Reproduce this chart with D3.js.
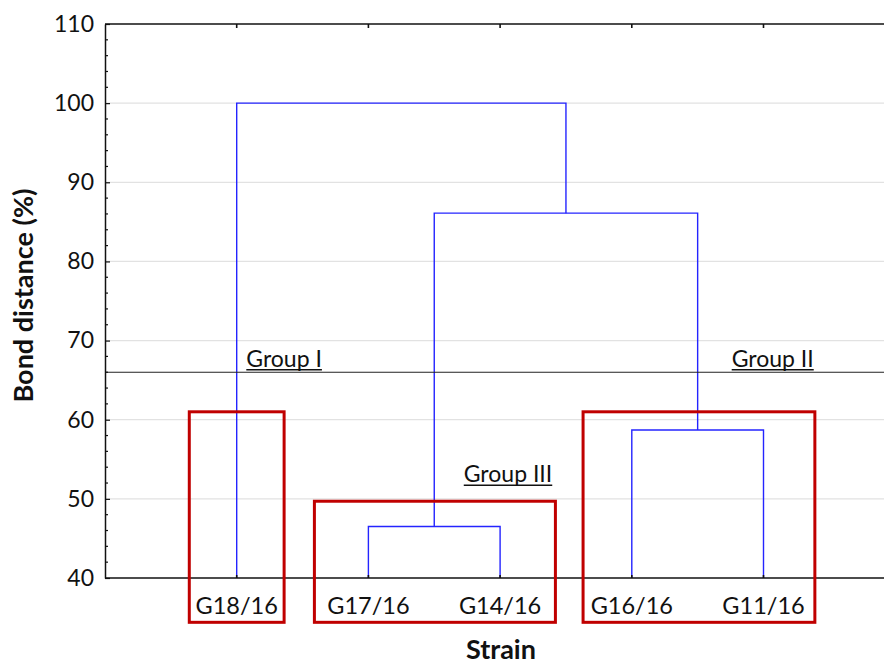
<!DOCTYPE html>
<html>
<head>
<meta charset="utf-8">
<script src="https://cdn.jsdelivr.net/npm/d3@7"></script>
<style>
  body { margin: 0; background: #fff; }
  svg { display: block; }
  text { font-family: Lato, "Open Sans", sans-serif; fill: #111; }
</style>
</head>
<body>
<svg id="chart" width="884" height="664"></svg>
<script>
// Leaves of the tree, in drawing order
const strains = ["G18/16", "G17/16", "G14/16", "G16/16", "G11/16"];
// Agglomeration steps: [left node, right node, bond distance]; leaves are 0..4, new clusters 5, 6, ...
const merges = [
  [1, 2, 46.5],
  [3, 4, 58.7],
  [5, 6, 86.1],
  [0, 7, 100]
];
// Cut-off level that separates the groups
const cutoff = 66;
// Y-axis ticks
const yTicks = [40, 50, 60, 70, 80, 90, 100, 110];
const yMinorTicks = d3.range(40, 111, 2);
// Groups defined by the cut
const groupNames = ["Group I", "Group III", "Group II"];
const groupSpan = [[0.64, 1.36], [1.59, 3.42], [3.63, 5.39]];   // box extent along the strain axis
const groupTop = [61, 49.7, 61];                                  // box top, bond distance
const groupLabelAt = [[1.36, 66.7], [3.06, 52.1], [5.07, 66.7]]; // label centre / baseline

const svg = d3.select("#chart");
const W = 884;
const plotLeft = 105, plotTop = 24, plotBottom = 578;

const x = d3.scaleLinear().domain([0, 6]).range([plotLeft, plotLeft + 6 * 131.7]);
const y = d3.scaleLinear().domain([40, 110]).range([plotBottom, plotTop]);

const plot = svg.append("g");

// horizontal grid
plot.selectAll("line.grid")
  .data(yTicks.filter(v => v > 40 && v < 110))
  .join("line")
  .attr("class", "grid")
  .attr("x1", plotLeft).attr("x2", W)
  .attr("y1", d => y(d)).attr("y2", d => y(d))
  .attr("stroke", "#e2e2e2").attr("stroke-width", 1.2);

// dendrogram: node positions
const nodeX = strains.map((s, i) => i + 1);
const nodeH = strains.map(() => 40);
merges.forEach(([a, b, h]) => {
  nodeX.push((nodeX[a] + nodeX[b]) / 2);
  nodeH.push(h);
});

plot.selectAll("path.link")
  .data(merges)
  .join("path")
  .attr("class", "link")
  .attr("d", ([a, b, h]) =>
    `M${x(nodeX[a])},${y(nodeH[a])}V${y(h)}H${x(nodeX[b])}V${y(nodeH[b])}`)
  .attr("fill", "none")
  .attr("stroke", "#2424ff")
  .attr("stroke-width", 1.4);

// cut-off line
plot.append("line")
  .attr("x1", plotLeft).attr("x2", W)
  .attr("y1", y(cutoff)).attr("y2", y(cutoff))
  .attr("stroke", "#222").attr("stroke-width", 1.2);

// left axis
const yAxis = d3.axisLeft(y).tickValues(yTicks).tickSizeInner(-5).tickSizeOuter(0).tickPadding(14);
const gy = svg.append("g").attr("transform", `translate(${plotLeft},0)`).call(yAxis);
gy.select(".domain").attr("stroke", "#111").attr("stroke-width", 1.5);
gy.selectAll(".tick line").attr("stroke", "#111").attr("stroke-width", 1.2);
gy.selectAll(".tick text")
  .attr("x", -11)
  .style("font-family", "Lato, sans-serif")
  .style("font-size", "23px")
  .attr("fill", "#111");

// minor ticks
svg.append("g").selectAll("line")
  .data(yMinorTicks.filter(v => !yTicks.includes(v)))
  .join("line")
  .attr("x1", plotLeft).attr("x2", plotLeft + 3)
  .attr("y1", d => y(d)).attr("y2", d => y(d))
  .attr("stroke", "#111").attr("stroke-width", 1.2);

// bottom axis line and ticks
svg.append("line")
  .attr("x1", plotLeft).attr("x2", W)
  .attr("y1", plotBottom).attr("y2", plotBottom)
  .attr("stroke", "#111").attr("stroke-width", 1.5);
svg.append("g").selectAll("line")
  .data(strains)
  .join("line")
  .attr("x1", (d, i) => x(i + 1)).attr("x2", (d, i) => x(i + 1))
  .attr("y1", plotBottom).attr("y2", plotBottom - 3)
  .attr("stroke", "#111").attr("stroke-width", 1.6);

// top frame line and ticks
svg.append("line")
  .attr("x1", plotLeft).attr("x2", W)
  .attr("y1", plotTop).attr("y2", plotTop)
  .attr("stroke", "#111").attr("stroke-width", 1.5);
svg.append("g").selectAll("line")
  .data(strains)
  .join("line")
  .attr("x1", (d, i) => x(i + 1)).attr("x2", (d, i) => x(i + 1))
  .attr("y1", plotTop).attr("y2", plotTop + 4)
  .attr("stroke", "#111").attr("stroke-width", 1.6);

// strain labels
svg.append("g").selectAll("text")
  .data(strains)
  .join("text")
  .attr("x", (d, i) => x(i + 1))
  .attr("y", 614)
  .attr("text-anchor", "middle")
  .style("font-size", "23.5px")
  .text(d => d);

// group boxes
svg.append("g").selectAll("rect")
  .data(groupNames)
  .join("rect")
  .attr("x", (d, i) => x(groupSpan[i][0]))
  .attr("width", (d, i) => x(groupSpan[i][1]) - x(groupSpan[i][0]))
  .attr("y", (d, i) => y(groupTop[i]))
  .attr("height", (d, i) => y(34.4) - y(groupTop[i]))
  .attr("fill", "none")
  .attr("stroke", "#c00000")
  .attr("stroke-width", 3);

// group labels with underline
const gl = svg.append("g").selectAll("g")
  .data(groupNames)
  .join("g");
gl.append("text")
  .attr("x", (d, i) => x(groupLabelAt[i][0]))
  .attr("y", (d, i) => y(groupLabelAt[i][1]))
  .attr("text-anchor", "middle")
  .style("font-size", "23px")
  .text(d => d);
gl.each(function () {
  const t = d3.select(this).select("text");
  const bb = t.node().getBBox();
  const base = +t.attr("y");
  d3.select(this).append("line")
    .attr("x1", bb.x).attr("x2", bb.x + bb.width)
    .attr("y1", base + 3).attr("y2", base + 3)
    .attr("stroke", "#111").attr("stroke-width", 1.5);
});

// axis titles
svg.append("text")
  .attr("transform", `translate(32.5,${(188 + 403) / 2}) rotate(-90)`)
  .attr("text-anchor", "middle")
  .style("font-size", "27px")
  .style("font-weight", "bold")
  .text("Bond distance (%)");

svg.append("text")
  .attr("x", 501)
  .attr("y", 659)
  .attr("text-anchor", "middle")
  .style("font-size", "27px")
  .style("font-weight", "bold")
  .text("Strain");
</script>
</body>
</html>
